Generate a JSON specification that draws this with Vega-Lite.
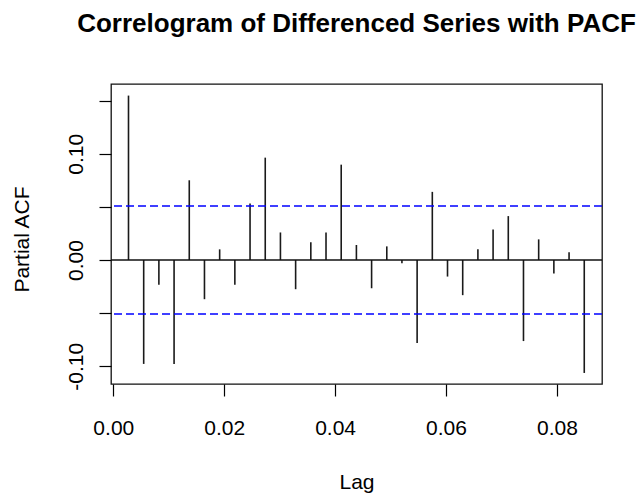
{
  "$schema": "https://vega.github.io/schema/vega-lite/v6.json",
  "width": 491,
  "height": 300,
  "autosize": {"type": "none"},
  "padding": {"left": 111, "top": 84, "right": 40, "bottom": 112},
  "background": "white",
  "config": {
    "view": {"stroke": "#111111", "strokeWidth": 1.3},
    "font": "Liberation Sans"
  },
  "title": {
    "text": "Correlogram of Differenced Series with PACF",
    "font": "Liberation Sans",
    "fontSize": 26,
    "fontWeight": "bold",
    "color": "black",
    "anchor": "middle",
    "baseline": "alphabetic",
    "offset": 26
  },
  "datasets": {
    "pacf": [
      {"lag": 0.00274, "pacf": 0.1547},
      {"lag": 0.00548, "pacf": -0.0978},
      {"lag": 0.00822, "pacf": -0.0234},
      {"lag": 0.01096, "pacf": -0.0978},
      {"lag": 0.01370, "pacf": 0.0750},
      {"lag": 0.01644, "pacf": -0.0369},
      {"lag": 0.01918, "pacf": 0.0100},
      {"lag": 0.02192, "pacf": -0.0234},
      {"lag": 0.02466, "pacf": 0.0531},
      {"lag": 0.02740, "pacf": 0.0963},
      {"lag": 0.03014, "pacf": 0.0259},
      {"lag": 0.03288, "pacf": -0.0275},
      {"lag": 0.03562, "pacf": 0.0166},
      {"lag": 0.03836, "pacf": 0.0259},
      {"lag": 0.04110, "pacf": 0.0897},
      {"lag": 0.04384, "pacf": 0.0141},
      {"lag": 0.04658, "pacf": -0.0266},
      {"lag": 0.04932, "pacf": 0.0128},
      {"lag": 0.05205, "pacf": -0.0031},
      {"lag": 0.05479, "pacf": -0.0781},
      {"lag": 0.05753, "pacf": 0.0641},
      {"lag": 0.06027, "pacf": -0.0156},
      {"lag": 0.06301, "pacf": -0.0331},
      {"lag": 0.06575, "pacf": 0.0100},
      {"lag": 0.06849, "pacf": 0.0288},
      {"lag": 0.07123, "pacf": 0.0413},
      {"lag": 0.07397, "pacf": -0.0763},
      {"lag": 0.07671, "pacf": 0.0194},
      {"lag": 0.07945, "pacf": -0.0128},
      {"lag": 0.08219, "pacf": 0.0072},
      {"lag": 0.08493, "pacf": -0.1063}
    ],
    "bounds": [
      {"ci": 0.0508},
      {"ci": -0.0508}
    ],
    "zero": [
      {"z": 0}
    ]
  },
  "layer": [
    {
      "data": {"name": "pacf"},
      "mark": {"type": "rule", "color": "#1a1a1a", "strokeWidth": 1.6},
      "encoding": {
        "x": {
          "field": "lag",
          "type": "quantitative",
          "scale": {"domain": [-0.000415, 0.08813], "nice": false, "zero": false},
          "axis": {
            "title": "Lag",
            "values": [0, 0.02, 0.04, 0.06, 0.08],
            "format": ".2f",
            "grid": false,
            "domain": false,
            "ticks": true,
            "tickSize": 12,
            "tickColor": "black",
            "tickWidth": 1.2,
            "labelFont": "Liberation Sans",
            "labelFontSize": 21,
            "labelColor": "black",
            "labelBaseline": "alphabetic",
            "labelPadding": 38,
            "labelFlush": false,
            "labelOverlap": false,
            "titleFont": "Liberation Sans",
            "titleFontSize": 21,
            "titleFontWeight": "normal",
            "titleColor": "black",
            "titleBaseline": "alphabetic",
            "titleY": 104
          }
        },
        "y": {
          "field": "pacf",
          "type": "quantitative",
          "scale": {"domain": [-0.1167, 0.1656], "nice": false, "zero": false},
          "axis": {
            "title": "Partial ACF",
            "values": [-0.1, -0.05, 0, 0.05, 0.1, 0.15],
            "format": ".2f",
            "labelExpr": "abs(datum.value - 0.05) < 0.001 || abs(datum.value + 0.05) < 0.001 || abs(datum.value - 0.15) < 0.001 ? '' : (datum.value < 0 ? '-' + format(abs(datum.value), '.2f') : datum.label)",
            "grid": false,
            "domain": false,
            "tickSize": 12,
            "tickColor": "black",
            "tickWidth": 1.2,
            "labelFont": "Liberation Sans",
            "labelFontSize": 21,
            "labelColor": "black",
            "labelAngle": -90,
            "labelAlign": "center",
            "labelBaseline": "alphabetic",
            "labelPadding": 17,
            "labelFlush": false,
            "labelOverlap": false,
            "titleFont": "Liberation Sans",
            "titleFontSize": 21,
            "titleFontWeight": "normal",
            "titleColor": "black",
            "titleAngle": -90,
            "titleBaseline": "alphabetic",
            "titleX": -83,
            "titleY": 155
          }
        },
        "y2": {"datum": 0}
      }
    },
    {
      "data": {"name": "zero"},
      "mark": {"type": "rule", "color": "#111111", "strokeWidth": 1.3},
      "encoding": {
        "y": {"field": "z", "type": "quantitative"}
      }
    },
    {
      "data": {"name": "bounds"},
      "mark": {"type": "rule", "color": "#0000ff", "strokeWidth": 1.5, "strokeDash": [8, 4]},
      "encoding": {
        "y": {"field": "ci", "type": "quantitative"}
      }
    }
  ]
}
